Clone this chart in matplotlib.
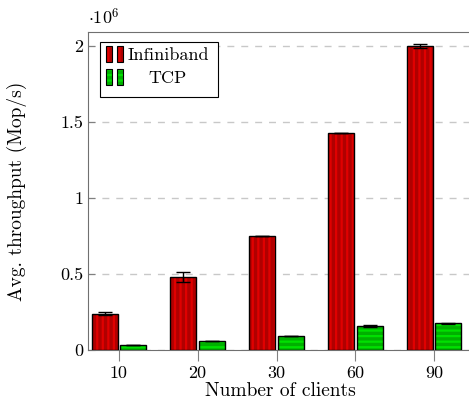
import numpy as np
import matplotlib
matplotlib.use('Agg')
import matplotlib.pyplot as plt
from matplotlib.patches import Rectangle

plt.rcParams['font.family'] = 'serif'
plt.rcParams['font.serif'] = ['cmr10', 'DejaVu Serif']
plt.rcParams['mathtext.fontset'] = 'cm'
plt.rcParams['axes.formatter.use_mathtext'] = True
plt.rcParams['hatch.linewidth'] = 1.6

clients = ['10', '20', '30', '60', '90']
infiniband = [0.24, 0.48, 0.75, 1.43, 2.0]
infiniband_err = [0.01, 0.03, 0.0, 0.0, 0.01]
tcp = [0.03, 0.06, 0.095, 0.16, 0.175]
tcp_err = [0.0, 0.0, 0.0, 0.006, 0.004]

RED, RED_HI = '#b00000', '#e00000'
GRN, GRN_HI = '#00b000', '#00e000'

W, H = 469, 401
fig = plt.figure(figsize=(W / 100, H / 100), dpi=100)
ax = fig.add_axes([88 / W, 51 / H, 1 - 88 / W + 0.01, 318 / H])

x = np.arange(len(clients))
w = 0.33
off = 0.18


def set_hc(p, c):
    if hasattr(p, 'set_hatchcolor'):
        p.set_hatchcolor(c)
    else:
        p._hatch_color = matplotlib.colors.to_rgba(c)


b1 = ax.bar(x - off, infiniband, w, yerr=infiniband_err, color=RED, edgecolor='black',
            linewidth=1.0, hatch='|||', capsize=5, error_kw=dict(elinewidth=1, capthick=1),
            zorder=3)
b2 = ax.bar(x + off, tcp, w, yerr=tcp_err, color=GRN, edgecolor='black',
            linewidth=1.0, hatch='---', capsize=5, error_kw=dict(elinewidth=1, capthick=1),
            zorder=3)
for p in b1:
    set_hc(p, RED_HI)
for p in b2:
    set_hc(p, GRN_HI)

ax.set_xlim(-0.39, 4.5)
ax.set_ylim(0, 2.092)
ax.set_xticks(x)
ax.set_xticklabels(clients)
ax.set_yticks([0, 0.5, 1, 1.5, 2])
ax.set_yticklabels(['0', '0.5', '1', '1.5', '2'])
ax.text(0.0, 1.015, r'$\cdot 10^6$', transform=ax.transAxes, fontsize=13, ha='left', va='bottom')

ax.grid(axis='y', linestyle=(0, (5, 5)), color='#c8c8c8', linewidth=1, zorder=0)
for s in ['top', 'left', 'right', 'bottom']:
    ax.spines[s].set_color('#707070')
ax.tick_params(axis='y', direction='in', length=5, color='#808080', labelsize=13)
ax.tick_params(axis='x', direction='out', length=8, color='#808080', labelsize=13, pad=3)

ax.set_xlabel('Number of clients', fontsize=14, labelpad=1)
ax.set_ylabel('Avg. throughput (Mop/s)', fontsize=14, labelpad=24)

# legend drawn in pixel positions, pgfplots style (two small bars, centred text)
def fx(px):
    return px / W


def fy(py):
    return 1 - py / H


frame = Rectangle((fx(100), fy(97)), fx(218) - fx(100), fy(42) - fy(97), transform=fig.transFigure,
                  facecolor='white', edgecolor='black', linewidth=0.8, zorder=10)
fig.add_artist(frame)
for label, fc, hc, hatch, ytop in [('Infiniband', RED, RED_HI, '|||', 46), ('TCP', GRN, GRN_HI, '---', 69)]:
    for x0 in (106, 117):
        r = Rectangle((fx(x0), fy(ytop + 16)), fx(6), 16 / H, transform=fig.transFigure,
                      facecolor=fc, edgecolor='black', linewidth=0.8, hatch=hatch, zorder=11)
        set_hc(r, hc)
        fig.add_artist(r)
    fig.text(fx(168), fy(ytop + 9), label, ha='center', va='center', fontsize=13, zorder=12)

fig.savefig('out.png', dpi=100)
